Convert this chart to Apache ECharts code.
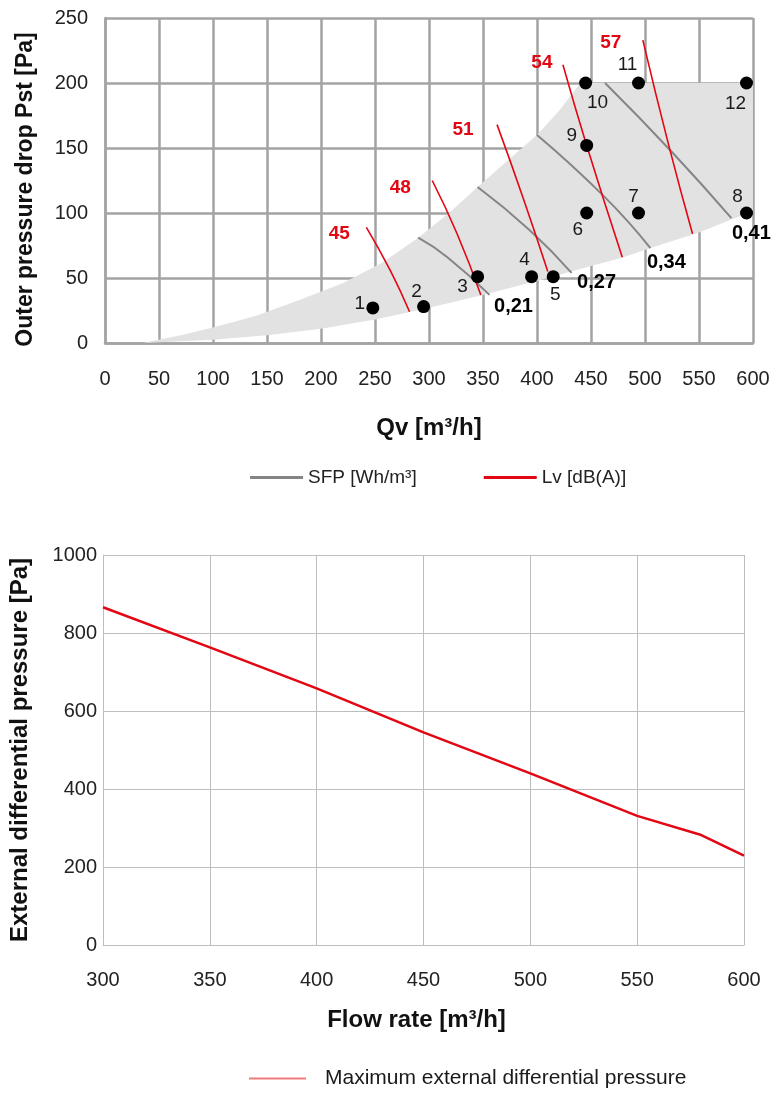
<!DOCTYPE html>
<html><head><meta charset="utf-8">
<script src="https://cdn.jsdelivr.net/npm/echarts@6/dist/echarts.min.js"></script>
<style>html,body{margin:0;padding:0;background:#fff}#c{width:774px;height:1093px}</style>
</head><body><div id="c"></div>
<script>
// ---------- Top chart data ----------
const xTicksTop = [0,50,100,150,200,250,300,350,400,450,500,550,600];
const yTicksTop = [0,50,100,150,200,250];
const upperBoundary = [[35,0],[70,6],[100,12],[140,21],[180,33],[220,46],[257,62],[290,81],[320,101],[345,120],[375,142],[400,160],[420,178],[440,200],[600,200]];
const lowerBoundary = [[35,0],[100,2.5],[150,6],[200,11],[250,18],[294,26],[350,37],[410,50],[440,57],[480,66],[505,73],[550,85],[580,95],[600,101]];
const sfpNames = ['0,21','0,27','0,34','0,41'];
const sfp021 = [[290,81],[317,66],[356,37]];
const sfp027 = [[345,120],[393,87],[432,54]];
const sfp034 = [[400,160],[463,112],[505,73]];
const sfp041 = [[463,200],[526,146],[580,96]];
const lvNames = ['45','48','51','54','57'];
const lv45 = [[242,89],[264,56],[282,24]];
const lv48 = [[303,125],[326,84],[348,37]];
const lv51 = [[363,168],[387,112],[410,55]];
const lv54 = [[424,214],[446,152],[479,66]];
const lv57 = [[498,233],[522,152],[544,84]];
const pointNames = ['1','2','3','4','5','6','7','8','9','10','11','12'];
const pointX = [248,295,345,395,415,446,494,594,446,445,494,594];
const pointY = [27,28,51,51,51,100,100,100,152,200,200,200];

// ---------- Bottom chart data ----------
const flowRate = [300,350,400,450,500,550,580,600];
const maxPressure = [866,763,658,545,440,331,282,229];

// ---------- styling / layout ----------
const ARIAL = "'Liberation Sans',Arial,sans-serif";
const GRAY = '#858585', RED = '#e30613';
const pointLabelOffset = [[-13,-4],[-7,-15],[-15,10],[-7,-17],[2,18],[-9,17],[-5,-16],[-9,-16],[-15,-10],[12,20],[-11,-18],[-11,21]];
const lvLabelOffset = [[-27,6],[-32,7],[-34,5],[-21,-2],[-32,3]];
const sfpLabelOffset = [[24,12],[25,10],[16,14],[20,15]];

const sfpLines = [sfp021,sfp027,sfp034,sfp041];
const lvLines = [lv45,lv48,lv51,lv54,lv57];
const regionPts = upperBoundary.concat(lowerBoundary.slice().reverse());

const series = [];
series.push({
  type:'custom', xAxisIndex:0, yAxisIndex:0, z:1, silent:true,
  data: regionPts,
  renderItem: function(params, api){
    if (params.dataIndex !== 0) return null;
    return {type:'polygon', shape:{points: regionPts.map(p=>api.coord(p))}, style:{fill:'#e2e2e2'}};
  }
});
sfpLines.forEach(d=>series.push({name:'SFP [Wh/m³]', type:'line', xAxisIndex:0, yAxisIndex:0, data:d, smooth:true, showSymbol:false, z:3,
  lineStyle:{color:GRAY,width:2}, itemStyle:{color:GRAY}}));
lvLines.forEach(d=>series.push({name:'Lv [dB(A)]', type:'line', xAxisIndex:0, yAxisIndex:0, data:d, smooth:true, showSymbol:false, z:4,
  lineStyle:{color:RED,width:1.6}, itemStyle:{color:RED}}));
// SFP value labels (at lower end of each line)
series.push({type:'scatter', xAxisIndex:0, yAxisIndex:0, symbolSize:0, z:6, silent:true,
  itemStyle:{opacity:1},
  data: sfpLines.map((d,i)=>({value:d[d.length-1], name:sfpNames[i],
    label:{show:true, position:'inside', offset:sfpLabelOffset[i], formatter:sfpNames[i]}})),
  label:{color:'#000', fontSize:20, fontWeight:'bold', fontFamily:ARIAL}});
// Lv value labels (at upper start of each line)
series.push({type:'scatter', xAxisIndex:0, yAxisIndex:0, symbolSize:0, z:6, silent:true,
  itemStyle:{opacity:1},
  data: lvLines.map((d,i)=>({value:d[0], name:lvNames[i],
    label:{show:true, position:'inside', offset:lvLabelOffset[i], formatter:lvNames[i]}})),
  label:{color:RED, fontSize:19, fontWeight:'bold', fontFamily:ARIAL}});
// Operating points
series.push({type:'scatter', xAxisIndex:0, yAxisIndex:0, symbol:'circle', symbolSize:13, z:7,
  itemStyle:{color:'#000', opacity:1},
  data: pointX.map((x,i)=>({value:[x,pointY[i]], name:pointNames[i],
    label:{show:true, position:'inside', offset:pointLabelOffset[i], formatter:pointNames[i]}})),
  label:{color:'#1a1a1a', fontSize:19, fontFamily:ARIAL}});
// Bottom chart
series.push({name:'Maximum external differential pressure', type:'line', xAxisIndex:1, yAxisIndex:1,
  data: flowRate.map((x,i)=>[x,maxPressure[i]]), showSymbol:false,
  lineStyle:{color:RED,width:2.5}, itemStyle:{color:'#ee7a7e'}});

const noComma = v => String(v);
const option = {
  animation:false,
  backgroundColor:'#fff',
  grid:[{left:105, top:18, width:648, height:325},{left:103, top:555, width:641, height:390}],
  legend:[
    {left:250, top:468, padding:0, itemWidth:53, itemHeight:3, itemGap:67, icon:'rect',
     data:['SFP [Wh/m³]','Lv [dB(A)]'], textStyle:{fontSize:19, fontFamily:ARIAL, color:'#222'}},
    {left:249, top:1068, padding:0, itemWidth:57, itemHeight:2, icon:'rect',
     data:['Maximum external differential pressure'], textStyle:{fontSize:21, fontFamily:ARIAL, color:'#1a1a1a', padding:[0,0,0,14]}}
  ],
  xAxis:[
    {gridIndex:0, type:'value', min:xTicksTop[0], max:xTicksTop[xTicksTop.length-1], interval:50,
     axisLine:{show:true, lineStyle:{color:'#a3a3a3', width:2.5}}, axisTick:{show:false},
     splitLine:{show:true, lineStyle:{color:'#a3a3a3', width:2.5}},
     axisLabel:{margin:26, fontSize:20, fontFamily:ARIAL, color:'#222', formatter:noComma},
     name:'Qv [m³/h]', nameLocation:'middle', nameGap:73,
     nameTextStyle:{fontSize:24, fontWeight:'bold', fontFamily:ARIAL, color:'#111'}},
    {gridIndex:1, type:'value', min:flowRate[0], max:flowRate[flowRate.length-1], interval:50,
     axisLine:{show:true, lineStyle:{color:'#bdbdbd', width:1}}, axisTick:{show:false},
     splitLine:{show:true, lineStyle:{color:'#bdbdbd', width:1}},
     axisLabel:{margin:25, fontSize:20, fontFamily:ARIAL, color:'#222', formatter:noComma},
     name:'Flow rate [m³/h]', nameLocation:'middle', nameGap:63,
     nameTextStyle:{fontSize:24, fontWeight:'bold', fontFamily:ARIAL, color:'#111', padding:[0,14,0,0]}}
  ],
  yAxis:[
    {gridIndex:0, type:'value', min:yTicksTop[0], max:yTicksTop[yTicksTop.length-1], interval:50,
     axisLine:{show:true, lineStyle:{color:'#a3a3a3', width:2.5}}, axisTick:{show:false},
     splitLine:{show:true, lineStyle:{color:'#a3a3a3', width:2.5}},
     axisLabel:{margin:17, fontSize:20, fontFamily:ARIAL, color:'#222', formatter:noComma},
     name:'Outer pressure drop Pst [Pa]', nameLocation:'middle', nameGap:68, nameRotate:90,
     nameTextStyle:{fontSize:23, fontWeight:'bold', fontFamily:ARIAL, color:'#111', padding:[0,18,0,0]}},
    {gridIndex:1, type:'value', min:0, max:1000, interval:200,
     axisLine:{show:true, lineStyle:{color:'#bdbdbd', width:1}}, axisTick:{show:false},
     splitLine:{show:true, lineStyle:{color:'#bdbdbd', width:1}},
     axisLabel:{margin:6, fontSize:20, fontFamily:ARIAL, color:'#222', formatter:noComma},
     name:'External differential pressure [Pa]', nameLocation:'middle', nameGap:71, nameRotate:90,
     nameTextStyle:{fontSize:24, fontWeight:'bold', fontFamily:ARIAL, color:'#111'}}
  ],
  series: series
};
const chart = echarts.init(document.getElementById('c'), null, {renderer:'canvas'});
chart.setOption(option);
</script></body></html>
